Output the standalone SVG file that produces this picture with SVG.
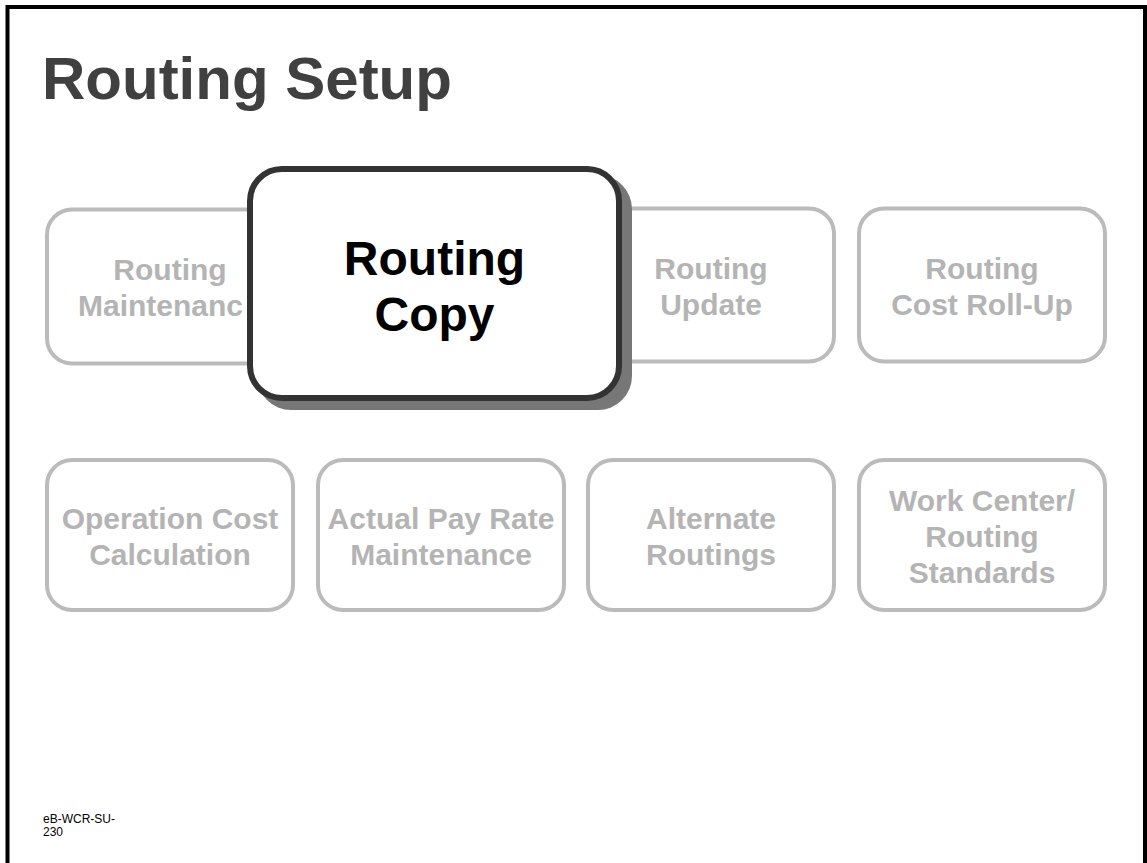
<svg xmlns="http://www.w3.org/2000/svg" width="1147" height="863" viewBox="0 0 1147 863">
<style>
.box{fill:#ffffff;stroke:#bbbbbb;stroke-width:4}
.gt{font-family:"Liberation Sans",Arial,sans-serif;font-weight:bold;font-size:30px;fill:#b4b4b4;text-anchor:middle}
.ct{font-family:"Liberation Sans",Arial,sans-serif;font-weight:bold;font-size:48px;fill:#000000;text-anchor:middle}
</style>
<rect x="0" y="0" width="1147" height="863" fill="#ffffff"/>
<rect x="7.5" y="7" width="1137.5" height="1000" fill="none" stroke="#000000" stroke-width="4"/>
<text x="42" y="99" font-family="'Liberation Sans',Arial,sans-serif" font-weight="bold" font-size="60" fill="#404040">Routing Setup</text>
<g id="connectors"/>
<g id="node-maintenance">
<rect class="box" x="47" y="209.5" width="246" height="154" rx="25"/>
<text class="gt" x="170" y="280">Routing</text>
<text x="78" y="316" font-family="'Liberation Sans',Arial,sans-serif" font-weight="bold" font-size="30" fill="#b4b4b4">Maintenanc</text>
</g>
<g id="node-update">
<rect class="box" x="588" y="208.5" width="246" height="153" rx="25"/>
<text class="gt" x="711" y="279">Routing</text>
<text class="gt" x="711" y="315">Update</text>
</g>
<g id="node-costrollup">
<rect class="box" x="859" y="208.5" width="246" height="153" rx="25"/>
<text class="gt" x="982" y="279">Routing</text>
<text class="gt" x="982" y="315">Cost Roll-Up</text>
</g>
<g id="node-copy">
<rect x="257" y="175" width="375" height="235" rx="34" fill="#777777"/>
<rect x="250" y="169" width="369" height="229" rx="32" fill="#ffffff" stroke="#333333" stroke-width="6"/>
<text class="ct" x="434.5" y="275">Routing</text>
<text class="ct" x="434.5" y="331">Copy</text>
</g>
<g id="node-opcost">
<rect class="box" x="47" y="460" width="246" height="150" rx="25"/>
<text class="gt" x="170" y="529">Operation Cost</text>
<text class="gt" x="170" y="565">Calculation</text>
</g>
<g id="node-payrate">
<rect class="box" x="318" y="460" width="246" height="150" rx="25"/>
<text class="gt" x="441" y="529">Actual Pay Rate</text>
<text class="gt" x="441" y="565">Maintenance</text>
</g>
<g id="node-alternate">
<rect class="box" x="588" y="460" width="246" height="150" rx="25"/>
<text class="gt" x="711" y="529">Alternate</text>
<text class="gt" x="711" y="565">Routings</text>
</g>
<g id="node-workcenter">
<rect class="box" x="859" y="460" width="246" height="150" rx="25"/>
<text class="gt" x="982" y="511">Work Center/</text>
<text class="gt" x="982" y="547">Routing</text>
<text class="gt" x="982" y="583">Standards</text>
</g>
<text font-family="'Liberation Sans',Arial,sans-serif" font-size="12" fill="#000000"><tspan x="43" y="823">eB-WCR-SU-</tspan><tspan x="43" y="835.5">230</tspan></text>
</svg>
